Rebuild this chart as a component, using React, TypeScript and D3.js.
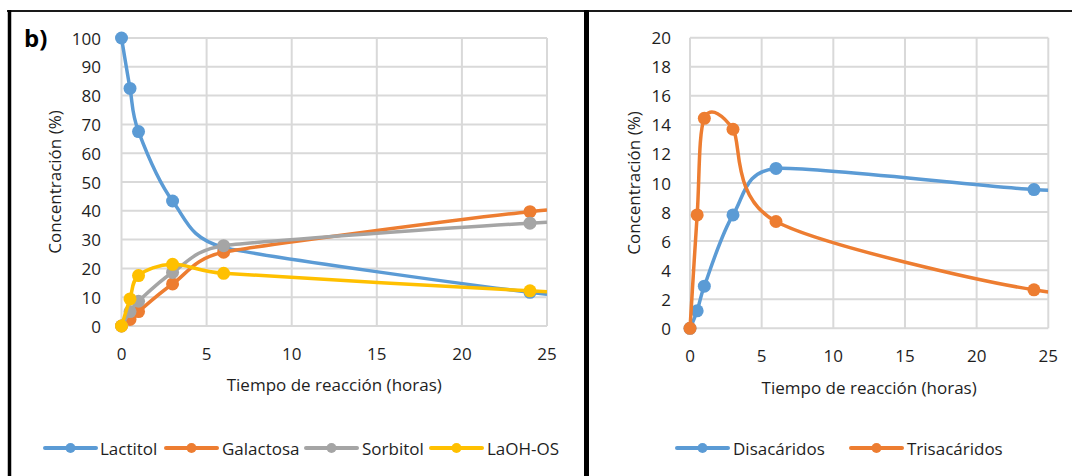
import React from "react";
import * as d3 from "d3";

// ---- data ----
const HOURS = [0, 0.5, 1, 3, 6, 24, 25]; // last entry: value where the curve meets the axis edge (no marker)
const MARKED = [true, true, true, true, true, true, false];

const LACTITOL = [100, 82.5, 67.5, 43.4, 27.3, 11.7, 11.0];
const GALACTOSA = [0, 2.3, 5, 14.6, 25.6, 39.7, 40.3];
const SORBITOL = [0, 5, 8.6, 18.6, 27.9, 35.7, 36.0];
const LAOH_OS = [0, 9.4, 17.5, 21.4, 18.3, 12.2, 11.9];

const DISACARIDOS = [0, 1.2, 2.9, 7.8, 11.0, 9.55, 9.5];
const TRISACARIDOS = [0, 7.8, 14.45, 13.7, 7.35, 2.65, 2.5];

const X_TICKS = [0, 5, 10, 15, 20, 25];
const LEFT_Y_TICKS = [0, 10, 20, 30, 40, 50, 60, 70, 80, 90, 100];
const RIGHT_Y_TICKS = [0, 2, 4, 6, 8, 10, 12, 14, 16, 18, 20];

const LEFT_NAMES = ["Lactitol", "Galactosa", "Sorbitol", "LaOH-OS"];
const RIGHT_NAMES = ["Disacáridos", "Trisacáridos"];

const X_TITLE = "Tiempo de reacción (horas)";
const Y_TITLE = "Concentración (%)";

const COLORS = {
  blue: "#5B9BD5",
  orange: "#ED7D31",
  gray: "#A5A5A5",
  yellow: "#FFC000",
};

const FONT = "'Open Sans', 'DejaVu Sans', sans-serif";
const TEXT = "#1e1e1e";
const GRID = "#d9d9d9";

// Spreadsheet-style smoothed line: Bezier segments with tangents (P[i+1]-P[i-1])/6,
// shortened so a control arm never exceeds half of the shorter neighbouring segment.
// The last point is where the line leaves the plot, so the point before it takes
// its direction from that edge point.
function curveSmooth(context: any) {
  let pts: [number, number][] = [];
  return {
    areaStart() {},
    areaEnd() {},
    lineStart() {
      pts = [];
    },
    point(x: number, y: number) {
      pts.push([+x, +y]);
    },
    lineEnd() {
      const n = pts.length;
      if (!n) return;
      context.moveTo(pts[0][0], pts[0][1]);
      if (n === 1) return;
      if (n < 4) {
        for (let i = 1; i < n; i++) context.lineTo(pts[i][0], pts[i][1]);
        return;
      }
      const dist = (a: [number, number], b: [number, number]) => Math.hypot(b[0] - a[0], b[1] - a[1]);
      // incoming (Vin) and outgoing (Vout) arms per point
      const Vin: [number, number][] = [];
      const Vout: [number, number][] = [];
      for (let i = 0; i < n; i++) {
        const p = pts[i];
        if (i === n - 2) {
          const e = pts[n - 1];
          const prev = pts[n - 3];
          const dEdge = dist(p, e) || 1;
          const ux = (e[0] - p[0]) / dEdge;
          const uy = (e[1] - p[1]) / dEdge;
          const mIn = Math.min(dist(prev, e) / 6, dist(prev, p) / 2);
          const mOut = dEdge / 3;
          Vin.push([ux * mIn, uy * mIn]);
          Vout.push([ux * mOut, uy * mOut]);
          continue;
        }
        if (i === n - 1) {
          const q = pts[n - 2];
          Vin.push([(p[0] - q[0]) / 3, (p[1] - q[1]) / 3]);
          Vout.push([0, 0]);
          continue;
        }
        const a = pts[Math.max(0, i - 1)];
        const b = pts[Math.min(n - 1, i + 1)];
        const tx = b[0] - a[0];
        const ty = b[1] - a[1];
        const d02 = Math.hypot(tx, ty);
        if (d02 === 0) {
          Vin.push([0, 0]);
          Vout.push([0, 0]);
          continue;
        }
        const dPrev = i > 0 ? dist(a, p) : Infinity;
        const dNext = dist(p, b);
        const f = Math.min(1 / 6, Math.min(dPrev, dNext) / (2 * d02));
        Vin.push([tx * f, ty * f]);
        Vout.push([tx * f, ty * f]);
      }
      for (let i = 0; i < n - 1; i++) {
        const p = pts[i];
        const q = pts[i + 1];
        context.bezierCurveTo(
          p[0] + Vout[i][0],
          p[1] + Vout[i][1],
          q[0] - Vin[i + 1][0],
          q[1] - Vin[i + 1][1],
          q[0],
          q[1]
        );
      }
    },
  };
}

type Series = { name: string; values: number[]; color: string };

type PanelProps = {
  id: string;
  x0: number;
  x1: number;
  y0: number;
  y1: number;
  yMax: number;
  yTicks: number[];
  series: Series[];
  xTickY: number;
  xTitleY: number;
  yTitleX: number;
  yLabelRight: number;
  legend: { lineStart: number; textStart: number }[];
  legendY: number;
};

function Panel(p: PanelProps) {
  const x = d3.scaleLinear().domain([0, 25]).range([p.x0, p.x1]);
  const y = d3.scaleLinear().domain([0, p.yMax]).range([p.y0, p.y1]);
  const line = d3
    .line<number>()
    .x((_, i) => x(HOURS[i]))
    .y((v) => y(v))
    .curve(curveSmooth as any);

  return (
    <g>
      <defs>
        <clipPath id={p.id}>
          <rect x={p.x0 - 10} y={p.y1 - 10} width={p.x1 - p.x0 + 10} height={p.y0 - p.y1 + 20} />
        </clipPath>
      </defs>
      {/* grid */}
      {p.yTicks.map((t) => (
        <line key={"gy" + t} x1={p.x0} x2={p.x1} y1={y(t)} y2={y(t)} stroke={GRID} strokeWidth={2} />
      ))}
      {X_TICKS.map((t) => (
        <line key={"gx" + t} x1={x(t)} x2={x(t)} y1={p.y0} y2={p.y1} stroke={GRID} strokeWidth={2} />
      ))}
      {/* tick labels */}
      {p.yTicks.map((t) => (
        <text
          key={"ly" + t}
          x={p.yLabelRight}
          y={y(t)}
          textAnchor="end"
          dominantBaseline="central"
          fontSize={17}
          fontFamily={FONT}
          fill={TEXT}
        >
          {t}
        </text>
      ))}
      {X_TICKS.map((t) => (
        <text
          key={"lx" + t}
          x={x(t)}
          y={p.xTickY}
          textAnchor="middle"
          dominantBaseline="central"
          fontSize={17}
          fontFamily={FONT}
          fill={TEXT}
        >
          {t}
        </text>
      ))}
      {/* axis titles */}
      <text
        x={(p.x0 + p.x1) / 2}
        y={p.xTitleY}
        textAnchor="middle"
        dominantBaseline="central"
        fontSize={17}
        fontFamily={FONT}
        fill={TEXT}
      >
        {X_TITLE}
      </text>
      <text
        transform={`translate(${p.yTitleX},${(p.y0 + p.y1) / 2}) rotate(-90)`}
        textAnchor="middle"
        dominantBaseline="central"
        fontSize={17}
        fontFamily={FONT}
        fill={TEXT}
      >
        {Y_TITLE}
      </text>
      {/* series */}
      {p.series.map((s) => (
        <g key={s.name}>
          <path
            d={line(s.values) || ""}
            fill="none"
            stroke={s.color}
            strokeWidth={3.5}
            strokeLinejoin="round"
            strokeLinecap="butt"
            clipPath={`url(#${p.id})`}
          />
          {s.values.map((v, i) =>
            MARKED[i] ? <circle key={i} cx={x(HOURS[i])} cy={y(v)} r={6.5} fill={s.color} /> : null
          )}
        </g>
      ))}
      {/* legend */}
      {p.series.map((s, i) => {
        const L = p.legend[i];
        return (
          <g key={"lg" + s.name}>
            <line
              x1={L.lineStart}
              x2={L.lineStart + 51}
              y1={p.legendY}
              y2={p.legendY}
              stroke={s.color}
              strokeWidth={4}
              strokeLinecap="round"
            />
            <circle cx={L.lineStart + 25.5} cy={p.legendY} r={5} fill={s.color} />
            <text
              x={L.textStart}
              y={p.legendY}
              dominantBaseline="central"
              fontSize={17}
              fontFamily={FONT}
              fill={TEXT}
            >
              {s.name}
            </text>
          </g>
        );
      })}
    </g>
  );
}

export default function App() {
  const leftSeries: Series[] = [
    { name: LEFT_NAMES[0], values: LACTITOL, color: COLORS.blue },
    { name: LEFT_NAMES[1], values: GALACTOSA, color: COLORS.orange },
    { name: LEFT_NAMES[2], values: SORBITOL, color: COLORS.gray },
    { name: LEFT_NAMES[3], values: LAOH_OS, color: COLORS.yellow },
  ];
  const rightSeries: Series[] = [
    { name: RIGHT_NAMES[0], values: DISACARIDOS, color: COLORS.blue },
    { name: RIGHT_NAMES[1], values: TRISACARIDOS, color: COLORS.orange },
  ];
  return (
    <svg
      width={1072}
      height={476}
      style={{ position: "absolute", left: 0, top: 0, background: "#fff" }}
    >
      <rect x={0} y={0} width={1072} height={476} fill="#fff" />
      {/* frame */}
      <line x1={7} x2={1072} y1={11} y2={11} stroke="#1a1a1a" strokeWidth={2} />
      <line x1={9.5} x2={9.5} y1={10} y2={476} stroke="#000" strokeWidth={3.5} />
      <line x1={586.5} x2={586.5} y1={10} y2={476} stroke="#000" strokeWidth={5} />
      <text x={24} y={37} dominantBaseline="central" fontSize={24} fontWeight="bold" fontFamily={FONT} fill="#000">
        b)
      </text>
      <Panel
        id="clipL"
        x0={121.5}
        x1={547}
        y0={326}
        y1={38}
        yMax={100}
        yTicks={LEFT_Y_TICKS}
        series={leftSeries}
        xTickY={353}
        xTitleY={384}
        yTitleX={54}
        yLabelRight={101}
        legend={[
          { lineStart: 45, textStart: 100 },
          { lineStart: 166, textStart: 222 },
          { lineStart: 306, textStart: 362 },
          { lineStart: 431, textStart: 487 },
        ]}
        legendY={448}
      />
      <Panel
        id="clipR"
        x0={690}
        x1={1048.3}
        y0={328.3}
        y1={37.7}
        yMax={20}
        yTicks={RIGHT_Y_TICKS}
        series={rightSeries}
        xTickY={355}
        xTitleY={387}
        yTitleX={633}
        yLabelRight={671}
        legend={[
          { lineStart: 677, textStart: 733 },
          { lineStart: 851, textStart: 907 },
        ]}
        legendY={448}
      />
    </svg>
  );
}
